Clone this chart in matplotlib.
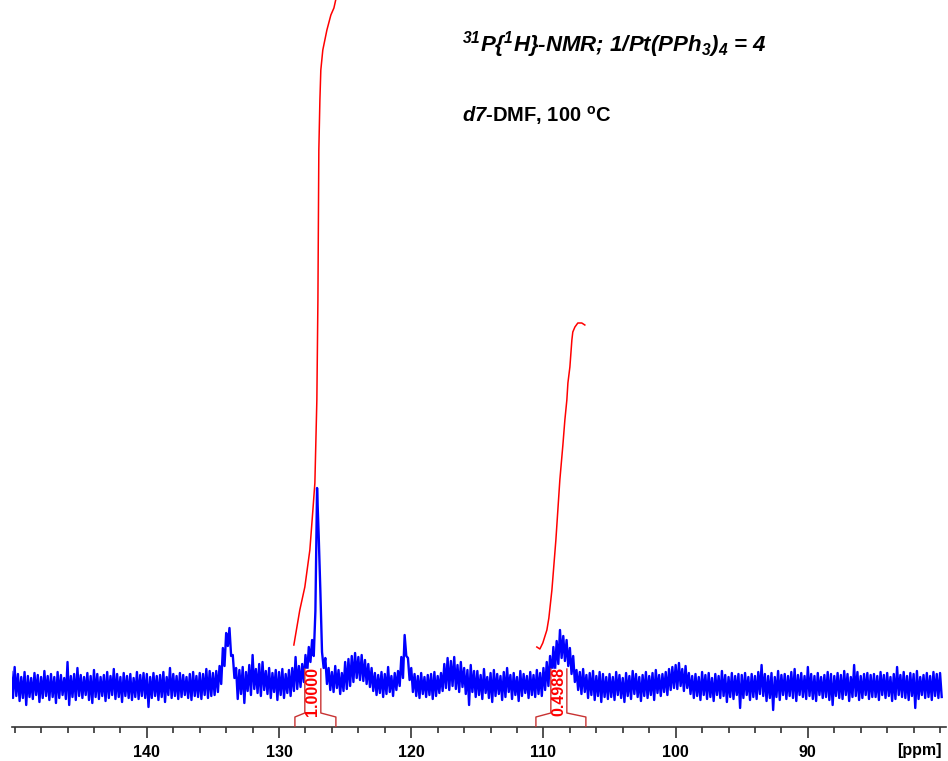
import numpy as np
import matplotlib
matplotlib.use('Agg')
import matplotlib.pyplot as plt

plt.rcParams['font.family'] = ['Liberation Sans', 'DejaVu Sans']
plt.rcParams['mathtext.fontset'] = 'custom'
plt.rcParams['mathtext.rm'] = 'Liberation Sans:italic:bold'
plt.rcParams['mathtext.it'] = 'Liberation Sans:italic:bold'
plt.rcParams['mathtext.sf'] = 'Liberation Sans:bold'

# spectrum: intensity on the 0.25 ppm grid (150.25 -> 80.0)
# and the value half a step further upfield (p - 0.125)
ppm_first = 150.25
ppm_step = 0.25
grid_vals = [14,
             19, 12, 9, 14, 10, 8, 13, 11, 9, 15, 10, 12, 9, 14, 11, 8, 24, 10, 12, 18,        # 150 - 145.25
             11, 9, 13, 10, 16, 12, 9, 11, 14, 10, 17, 12, 9, 13, 10, 12, 8, 14, 11, 13,        # 145 - 140.25
             12, 9, 13, 10, 11, 14, 9, 18, 12, 10, 13, 11, 9, 12, 14, 10, 13, 12, 17, 15,       # 140 - 135.25
             13, 15, 20, 38, 53, 58, 31, 18, 16, 19, 14, 21, 31, 17, 22, 24, 15, 18, 13, 16,    # 135 - 130.25
             14, 17, 12, 16, 18, 29, 20, 22, 31, 39, 46, 75, 150, 34, 28, 18, 14, 20, 16, 13,   # 130 - 125.25
             24, 27, 30, 33, 29, 31, 26, 22, 18, 13, 11, 14, 12, 19, 10, 13, 15, 29, 51, 28,    # 125 - 120.25
             18, 12, 10, 13, 9, 11, 12, 14, 10, 13, 22, 28, 25, 29, 21, 24, 18, 16, 21, 15,     # 120 - 115.25
             15, 11, 17, 9, 13, 16, 12, 10, 14, 18, 11, 13, 9, 15, 12, 10, 14, 11, 16, 13,      # 115 - 110.25
             18, 24, 30, 39, 45, 56, 50, 46, 38, 30, 16, 14, 17, 11, 13, 15, 10, 14, 12, 9,     # 110 - 105.25
             12, 9, 14, 11, 8, 13, 10, 15, 12, 9, 11, 14, 10, 13, 16, 11, 12, 14, 17, 19,       # 105 - 100.25
             21, 23, 17, 20, 13, 10, 12, 9, 14, 11, 13, 8, 12, 10, 15, 11, 9, 13, 10, 12,       # 100 - 95.25
             11, 13, 9, 12, 10, 14, 21, 12, 10, 13, 9, 15, 11, 12, 10, 14, 17, 11, 13, 10,      # 95 - 90.25
             19, 12, 10, 13, 9, 11, 14, 12, 10, 13, 11, 15, 12, 9, 21, 14, 10, 12, 13, 11,      # 90 - 85.25
             12, 10, 14, 11, 13, 9, 12, 19, 11, 14, 10, 13, 12, 15, 9, 11, 13, 10, 14, 12,      # 85 - 80.25
             13]
mid_vals = [-12,
            -10, -15, -12, -19, -11, -13, -9, -16, -12, -10, -14, -11, -17, -12, -9, -13, -19, -11, -14, -10,
            -12, -9, -14, -17, -11, -13, -10, -15, -12, -9, -13, -11, -16, -10, -12, -14, -11, -13, -10, -12,
            -21, -12, -10, -14, -11, -16, -9, -12, -10, -13, -11, -9, -12, -14, -10, -11, -13, -9, -12, -10,
            -9, -6, 2, 20, 40, 30, 8, -13, -8, -17, -5, -9, -3, -7, -10, -4, -8, -12, -6, -14,
            -9, -12, -7, -10, -5, -3, -1, 4, 12, 24, 30, 198, 95, 18, 2, -4, -6, -2, -8, -5,
            -3, 0, 4, 8, 6, 5, 2, -1, -5, -9, -7, -11, -8, -6, -10, -4, 0, 8, 30, 6,
            -6, -10, -12, -8, -11, -9, -13, -10, -7, -5, -2, -4, 0, -3, -6, -1, -8, -19, -6, -11,
            -9, -13, -7, -12, -16, -10, -8, -14, -11, -6, -13, -9, -15, -10, -7, -12, -9, -11, -8, -10,
            -4, 0, 8, 15, 22, 28, 25, 20, 12, 4, -4, -8, -6, -12, -9, -14, -10, -16, -11, -13,
            -11, -14, -9, -12, -16, -10, -13, -8, -11, -15, -10, -12, -9, -14, -7, -10, -6, -9, -4, -2,
            -3, 0, -5, -2, -8, -12, -10, -14, -9, -13, -11, -15, -9, -12, -10, -16, -11, -13, -9, -22,
            -12, -9, -14, -11, -13, -8, -10, -15, -12, -24, -11, -14, -9, -13, -10, -12, -15, -9, -11, -13,
            -10, -13, -15, -9, -12, -11, -14, -19, -10, -12, -13, -9, -15, -11, -10, -14, -12, -9, -13, -11,
            -11, -14, -9, -12, -10, -15, -13, -9, -11, -12, -14, -10, -22, -13, -9, -12, -11, -14, -10, -12,
            -11]

# integral curves
int1_ppm = [128.88, 128.43, 128.05, 127.67, 127.44, 127.29, 127.14, 127.06, 126.99, 126.91,
            126.84, 126.69, 126.38, 126.08, 125.85, 125.63]
int1_val = [41, 76, 99, 136, 176, 203, 286, 386, 536, 586, 616, 636, 656, 671, 678, 691]
int2_ppm = [110.50, 110.27, 110.05, 109.74, 109.59, 109.36, 109.06, 108.76, 108.53, 108.38,
            108.23, 108.15, 108.00, 107.85, 107.78, 107.62, 107.40, 107.10, 106.87]
int2_val = [39, 37, 43, 56, 68, 96, 146, 206, 241, 266, 286, 303, 319, 346, 354, 359, 363, 363, 361]

# integral labels: outer feet, inner box, value
label_feet = [(128.80, 125.70), (110.57, 106.79)]
label_box = [(128.05, 126.84), (109.44, 108.23)]
label_text = ['1.0000', '0.4988']

major_ticks = [140, 130, 120, 110, 100, 90]

fig = plt.figure(figsize=(9.48, 7.61), dpi=100)
ax = fig.add_axes([12 / 948, 34 / 761, 934 / 948, 727 / 761])

# spectrum
n = len(grid_vals)
ppm_grid = ppm_first - ppm_step * np.arange(n)
xs = np.empty(2 * n)
ys = np.empty(2 * n)
xs[0::2] = ppm_grid
xs[1::2] = ppm_grid - ppm_step / 2
ys[0::2] = grid_vals
ys[1::2] = mid_vals
ax.plot(xs, ys, color='#0000ff', lw=1.7, zorder=2)

# integrals
ax.plot(int1_ppm, int1_val, color='#ff0000', lw=1.1, zorder=5)
ax.plot(int2_ppm, int2_val, color='#ff0000', lw=1.1, zorder=5)

# integral value labels below the baseline
for (f1, f2), (b1, b2), txt in zip(label_feet, label_box, label_text):
    ax.fill([b1, b2, b2, b1], [-27, -27, 17, 17], color='white', zorder=3)
    ax.plot([f1, f1, b1, b1], [-41, -31, -27, 17], color='#c83232', lw=1, zorder=4)
    ax.plot([b2, b2, f2, f2], [17, -27, -31, -41], color='#c83232', lw=1, zorder=4)
    ax.text((b1 + b2) / 2, -5, txt, rotation=90, color='#ff0000', fontsize=11.5,
            fontweight='bold', ha='center', va='center', zorder=4)

ax.set_xlim(150.2, 79.55)
ax.set_ylim(-41, 686)
for s in ['top', 'left', 'right']:
    ax.spines[s].set_visible(False)
ax.spines['bottom'].set_color('#333333')
ax.spines['bottom'].set_linewidth(1.2)
ax.set_yticks([])
ax.set_xticks(major_ticks)
ax.set_xticks(np.arange(80, 151, 2), minor=True)
ax.tick_params(axis='x', which='major', length=8, width=1.2, color='#333333', pad=5,
               labelsize=11.5)
ax.tick_params(axis='x', which='minor', length=4.5, width=1.2, color='#333333')
for lab in ax.get_xticklabels():
    lab.set_fontweight('bold')
ax.annotate('[ppm]', xy=(1, 0), xycoords='axes fraction', xytext=(-3, -17),
            textcoords='offset points', ha='right', va='center', fontsize=11.5,
            fontweight='bold')

fig.text(462 / 948, 1 - 52 / 761,
         r'$^{31}$P{$^{1}$H}-NMR; 1/Pt(PPh$_{3}$)$_{4}$ = 4',
         fontsize=16, fontweight='bold', fontstyle='italic', va='baseline')
fig.text(462 / 948, 1 - 122 / 761, r'$d7$-DMF, 100 $^{\mathsf{o}}$C',
         fontsize=14.5, fontweight='bold', va='baseline')

fig.savefig('out.png', dpi=100)
